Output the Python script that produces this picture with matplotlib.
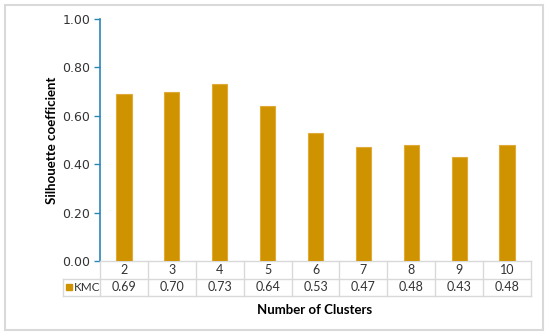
import matplotlib.pyplot as plt
from matplotlib.patches import Rectangle
from matplotlib.transforms import blended_transform_factory

clusters = ['2', '3', '4', '5', '6', '7', '8', '9', '10']
kmc = [0.69, 0.70, 0.73, 0.64, 0.53, 0.47, 0.48, 0.43, 0.48]
yticks = [0.0, 0.2, 0.4, 0.6, 0.8, 1.0]

bar_color = '#D09300'
grid_gray = '#D9D9D9'
axis_blue = '#2A86B8'

W, H = 550, 336
fig = plt.figure(figsize=(W / 100, H / 100), dpi=100)

# outer chart frame
fig.patches.append(Rectangle((5 / W, 6 / H), 538 / W, 325 / H, transform=fig.transFigure,
                             fill=False, edgecolor='#D9D9D9', linewidth=1.5))

ax = fig.add_axes([100 / W, (H - 261) / H, 431 / W, 242 / H])
x = range(len(clusters))
ax.bar(x, kmc, width=0.32, color=bar_color, edgecolor='#E0AA3A', linewidth=0.8, zorder=3)

ax.set_xlim(-0.5, len(clusters) - 0.5)
ax.set_ylim(0, 1.0)
ax.set_yticks(yticks)
ax.set_yticklabels([f'{v:.2f}' for v in yticks], fontsize=9, color='#333333', family='DejaVu Sans')
ax.tick_params(axis='y', length=4, width=1, color=axis_blue, pad=3)
ax.set_xticks([])
for s in ['top', 'right']:
    ax.spines[s].set_visible(False)
ax.spines['left'].set_color(axis_blue)
ax.spines['left'].set_linewidth(1.2)
ax.spines['bottom'].set_color(grid_gray)
ax.spines['bottom'].set_linewidth(1)

ax.set_ylabel('Silhouette coefficient', fontsize=9.5, fontweight='bold', family='Lato',
              labelpad=3)

# data table below the axis
tr = blended_transform_factory(ax.transData, ax.transAxes)
rh = 17.5 / 242
n = len(clusters)
lw = 1
for i in range(n + 1):
    ax.plot([i - 0.5, i - 0.5], [0, -2 * rh], transform=tr, color=grid_gray, lw=lw, clip_on=False)
leg_left = -0.5 - 37 / 431 * n
for yy in [-rh, -2 * rh]:
    ax.plot([leg_left, n - 0.5], [yy, yy], transform=tr, color=grid_gray, lw=lw, clip_on=False)
ax.plot([leg_left, leg_left], [-rh, -2 * rh], transform=tr, color=grid_gray, lw=lw, clip_on=False)

for i, (c, v) in enumerate(zip(clusters, kmc)):
    ax.text(i, -0.5 * rh, c, transform=tr, ha='center', va='center', fontsize=9,
            family='Lato', color='#333333')
    ax.text(i, -1.5 * rh, f'{v:.2f}', transform=tr, ha='center', va='center', fontsize=9,
            family='Lato', color='#333333')

ax.add_patch(Rectangle((leg_left + 0.06, -1.5 * rh - 0.013), 0.125, 0.026, transform=tr,
                       color=bar_color, clip_on=False))
ax.text(leg_left + 0.23, -1.5 * rh, 'KMC', transform=tr, ha='left', va='center', fontsize=8.5,
        family='Lato', color='#333333')

fig.text(315 / W, (H - 310) / H, 'Number of Clusters', ha='center', va='center',
         fontsize=9.5, fontweight='bold', family='Lato')

fig.savefig('out.png', dpi=100)
